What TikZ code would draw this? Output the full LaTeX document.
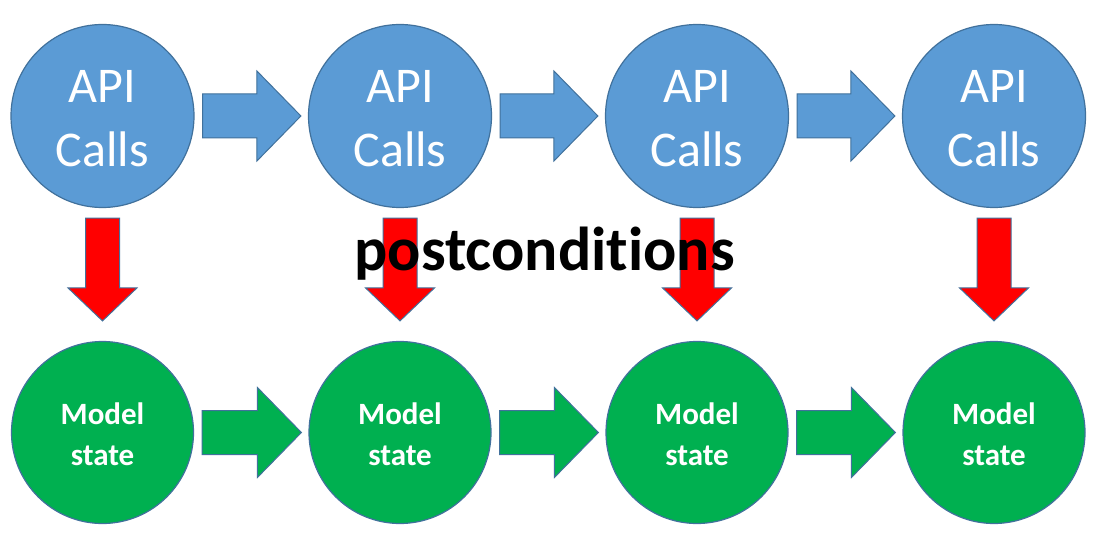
\documentclass[tikz,border=0pt]{standalone}
\usepackage{fontspec}
\setmainfont{Carlito}[Ligatures=NoCommon]
\usetikzlibrary{calc}
\definecolor{apiblue}{HTML}{5B9BD5}
\definecolor{edgeblue}{HTML}{41719C}
\definecolor{stategreen}{HTML}{00B050}
\definecolor{postred}{HTML}{FF0000}
\newcommand\blockharrow[3]{%
  \draw[blockarrow,fill=#3]
    ($(#1.east)+(8,-22)$) -- ($(#2.west)+(-51,-22)$) -- ($(#2.west)+(-51,-45)$)
    -- ($(#2.west)+(-7,0)$) -- ($(#2.west)+(-51,45)$) -- ($(#2.west)+(-51,22)$)
    -- ($(#1.east)+(8,22)$) -- cycle;}
\newcommand\blockvarrow[2]{%
  \draw[blockarrow,fill=postred]
    ($(#1.south)+(-17,10)$) -- ($(#2.north)+(-17,-53)$) -- ($(#2.north)+(-34.5,-53)$)
    -- ($(#2.north)+(0,-20)$) -- ($(#2.north)+(34.5,-53)$) -- ($(#2.north)+(17,-53)$)
    -- ($(#1.south)+(17,10)$) -- cycle;}
\begin{document}
\begin{tikzpicture}[x=1pt,y=-1pt,
  blockarrow/.style={draw=edgeblue,line width=1pt,line join=miter},
  api/.style={circle,draw=edgeblue,line width=1.2pt,fill=apiblue,minimum size=183pt,
    inner sep=0pt},
  apitext/.style={text=white,align=center,inner sep=0pt,yshift=-3pt,
    font=\fontsize{50}{64}\selectfont},
  model/.style={circle,draw=edgeblue,line width=1.2pt,fill=stategreen,minimum size=182pt,
    inner sep=0pt},
  modeltext/.style={text=white,align=center,inner sep=0pt,yshift=-2pt,
    font=\bfseries\fontsize{31}{41}\selectfont},
  postlabel/.style={font=\bfseries\fontsize{62}{74}\selectfont,text=black,anchor=base,inner sep=0pt}]
\useasboundingbox[fill=white] (0,0) rectangle (1099,545);
\foreach \i/\x in {1/102.5,2/400,3/697,4/994}{
  \node[api,label={[apitext]center:{API\\Calls}}] (a\i) at (\x,116) {};
  \node[model,label={[modeltext]center:{Model\\state}}] (m\i) at (\x,432.5) {};
}
\blockharrow{a1}{a2}{apiblue}
\blockharrow{a2}{a3}{apiblue}
\blockharrow{a3}{a4}{apiblue}
\blockharrow{m1}{m2}{stategreen}
\blockharrow{m2}{m3}{stategreen}
\blockharrow{m3}{m4}{stategreen}
\blockvarrow{a1}{m1}
\blockvarrow{a2}{m2}
\blockvarrow{a3}{m3}
\blockvarrow{a4}{m4}
\node[postlabel] (post) at (544.5,270) {postconditions};
\end{tikzpicture}
\end{document}
